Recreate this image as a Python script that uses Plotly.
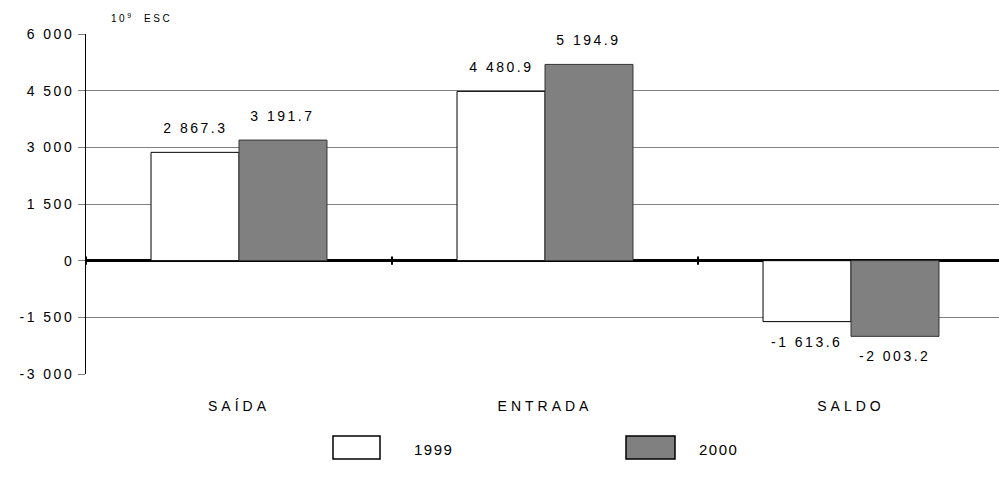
import plotly.graph_objects as go

# Flows in 10^9 ESC
categories = ["SAÍDA", "ENTRADA", "SALDO"]
years = ["1999", "2000"]
values_1999 = [2867.3, 4480.9, -1613.6]
values_2000 = [3191.7, 5194.9, -2003.2]
y_ticks = [-3000, -1500, 0, 1500, 3000, 4500, 6000]

FONT = "Liberation Sans, Arial, sans-serif"
x_pos = list(range(len(categories)))
BARGAP = 0.425
half_bar = (1 - BARGAP) / 4  # offset of each bar centre from the category centre


def fmt(v, decimals):
    """Space as thousands separator, point as decimal mark, plain hyphen minus."""
    s = f"{v:,.{decimals}f}"
    return s.replace(",", " ")


fig = go.Figure()
series = [
    (years[0], values_1999, "white", "black", -half_bar),
    (years[1], values_2000, "#808080", "#333333", +half_bar),
]
for name, vals, fill, edge, off in series:
    fig.add_trace(go.Bar(
        x=x_pos, y=vals, name=name,
        marker=dict(color=fill, line=dict(color=edge, width=1)),
    ))
    # value labels above positive bars, below negative ones
    for xi, v in zip(x_pos, vals):
        fig.add_annotation(
            x=xi + off, y=v, xref="x", yref="y", text=fmt(v, 1),
            showarrow=False, xanchor="center", yanchor="middle",
            yshift=24 if v >= 0 else -20,
            font=dict(size=14, color="black", family=FONT),
            name="vlabel",
        )

# category boundary ticks crossing the zero line
for b in [-0.5, 0.5, 1.5]:
    fig.add_shape(type="line", xref="x", yref="y", x0=b, x1=b, y0=-110, y1=110,
                  line=dict(color="black", width=2))

# legend drawn as boxes + labels
legend_items = [(years[0], "white", 333, 380, 415),
                (years[1], "#808080", 626, 675, 700)]
for label, fill, x0, x1, xt in legend_items:
    fig.add_shape(type="rect", xref="paper", yref="paper",
                  x0=(x0 - 86) / 913, x1=(x1 - 86) / 913,
                  y0=-(459 - 374) / 340, y1=-(436 - 374) / 340,
                  fillcolor=fill, line=dict(color="black", width=1.5))
    fig.add_annotation(xref="paper", yref="paper", x=(xt - 86) / 913,
                       y=-(449 - 374) / 340, text=label, showarrow=False,
                       xanchor="left", yanchor="middle",
                       font=dict(size=15, color="black", family=FONT),
                       name="legend")

# unit label
fig.add_annotation(xref="paper", yref="paper", x=(119 - 86) / 913, y=1 + 16 / 340,
                   text="10<sup>9</sup>  ESC", showarrow=False,
                   xanchor="left", yanchor="middle",
                   font=dict(size=10, color="black", family=FONT))

fig.update_layout(
    width=999, height=483,
    margin=dict(l=86, r=0, t=34, b=109),
    paper_bgcolor="white", plot_bgcolor="white",
    barmode="group", bargap=BARGAP, bargroupgap=0,
    showlegend=False,
    font=dict(family=FONT, color="black"),
    xaxis=dict(
        range=[-0.5, -0.5 + 913 / 306],
        tickvals=x_pos, ticktext=categories,
        showgrid=False, zeroline=False, showline=False, ticks="",
        tickfont=dict(size=14, color="black", family=FONT),
        ticklabelstandoff=22,
    ),
    yaxis=dict(
        range=[-3000, 6000], tickvals=y_ticks,
        ticktext=[fmt(t, 0) for t in y_ticks],
        showgrid=True, gridcolor="#808080", gridwidth=1,
        zeroline=True, zerolinecolor="black", zerolinewidth=2.5,
        showline=True, linecolor="black", linewidth=1,
        ticks="outside", ticklen=7, tickcolor="#808080",
        tickfont=dict(size=14, color="black", family=FONT),
        ticklabelstandoff=1,
    ),
)

# wide letter spacing used throughout the typography
spacing_js = """
var gd = document.getElementById('{plot_id}');
function sp(sel, v) {
  gd.querySelectorAll(sel).forEach(function (t) { t.style.letterSpacing = v; });
}
sp('.ytick text', '2.5px');
sp('.xtick text', '4px');
sp('.annotation-text', '2.5px');
gd.querySelectorAll('.annotation').forEach(function (a) {
  var t = a.querySelector('.annotation-text');
  if (t && /^(1999|2000)$/.test(t.textContent)) { t.style.letterSpacing = '1.5px'; }
});
"""

fig.write_html("out.html", post_script=spacing_js)
